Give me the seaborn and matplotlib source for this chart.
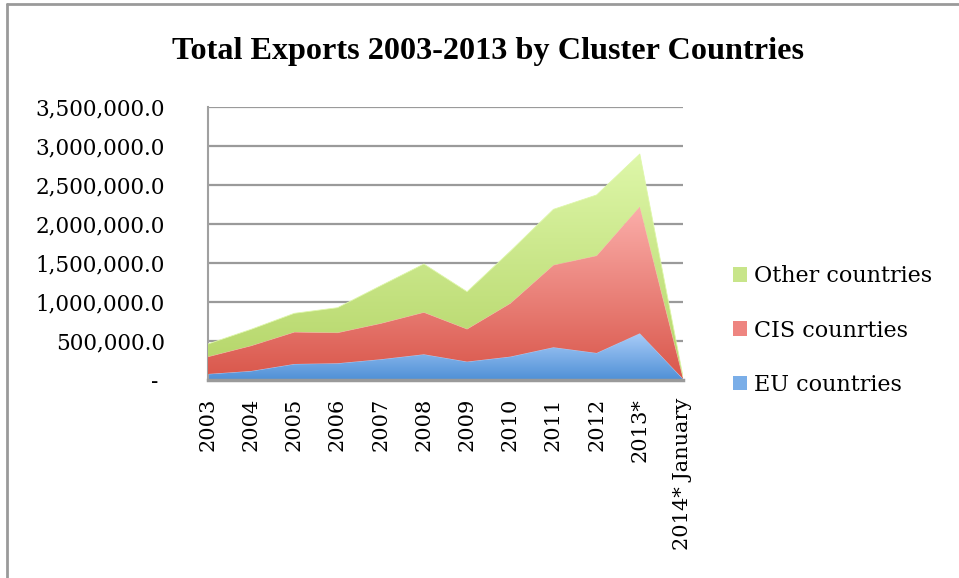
import numpy as np
import pandas as pd
import matplotlib
matplotlib.use("Agg")
import matplotlib.pyplot as plt
import seaborn as sns
from matplotlib.colors import LinearSegmentedColormap
from matplotlib.lines import Line2D
from matplotlib.patches import Patch

# ---------------- data ----------------
categories = ["2003", "2004", "2005", "2006", "2007", "2008", "2009",
              "2010", "2011", "2012", "2013*", "2014* January"]
eu_countries = [77000, 115000, 205000, 214000, 265000, 329000, 235000,
                299000, 419000, 346000, 598000, 15000]
cis_countries = [222000, 325000, 410000, 393000, 461000, 539000, 419000,
                 684000, 1055000, 1248000, 1624000, 20000]
other_countries = [163000, 210000, 240000, 320000, 483000, 619000, 478000,
                   667000, 714000, 778000, 675000, 10000]
series_names = ["EU countries", "CIS counrties", "Other countries"]
y_ticks = [0, 500000, 1000000, 1500000, 2000000, 2500000, 3000000, 3500000]

# gradient colours (bottom, top)
grad_colors = {
    "EU countries": ("#4f90d6", "#a9ccf8"),
    "CIS counrties": ("#d9564a", "#fbaeaa"),
    "Other countries": ("#b3d466", "#def7a9"),
}
legend_colors = {
    "EU countries": "#7aaee8",
    "CIS counrties": "#ee8580",
    "Other countries": "#c8e58a",
}

sns.set_theme(style="white")
plt.rcParams["font.family"] = ["DejaVu Serif"]
plt.rcParams["text.color"] = "black"
plt.rcParams["xtick.color"] = "black"
plt.rcParams["ytick.color"] = "black"
plt.rcParams["axes.labelcolor"] = "black"

fig = plt.figure(figsize=(9.59, 5.78), dpi=100)
ax = fig.add_axes([208 / 959, 1 - 380 / 578, (683 - 208) / 959, (380 - 107) / 578])

x = np.arange(len(categories))
df = pd.DataFrame({"x": x, "EU countries": eu_countries,
                   "CIS counrties": cis_countries,
                   "Other countries": other_countries})
bottom = np.zeros(len(x))
for i, name in enumerate(series_names):
    vals = df[name].to_numpy(dtype=float)
    top = bottom + vals
    poly = ax.fill_between(x, bottom, top, facecolor="none", edgecolor="none")
    cmap = LinearSegmentedColormap.from_list(name, list(grad_colors[name]))
    grad = np.linspace(0, 1, 256).reshape(-1, 1)
    im = ax.imshow(grad, cmap=cmap, aspect="auto", origin="lower",
                   extent=[x[0], x[-1], 0, top.max()], zorder=2 + i,
                   interpolation="bilinear")
    im.set_clip_path(poly.get_paths()[0], ax.transData)
    sns.lineplot(x=x, y=top, ax=ax, color=grad_colors[name][1], lw=0.6,
                 zorder=2 + i, legend=False)
    bottom = top

ax.set_xlim(x[0], x[-1])
ax.set_ylim(0, 3500000)
ax.set_aspect("auto")
ax.set_yticks(y_ticks)
ax.set_yticklabels(["- "] + [f"{v:,.1f}" for v in y_ticks[1:]])
ax.set_xticks(x)
ax.set_xticklabels(categories, rotation=90)
ax.tick_params(axis="y", length=0, pad=31, labelsize=15.5, colors="black")
ax.tick_params(axis="x", length=0, pad=13, labelsize=15, colors="black")
ax.set_xlabel("")
ax.set_ylabel("")

ax.set_axisbelow(True)
ax.yaxis.grid(True, color="#9a9a9a", lw=1.6)
ax.xaxis.grid(False)
for s in ["top", "right"]:
    ax.spines[s].set_visible(False)
ax.spines["left"].set_color("#a0a0a0")
ax.spines["left"].set_linewidth(1.5)
ax.spines["bottom"].set_color("#9a9a9a")
ax.spines["bottom"].set_linewidth(2.5)
ax.spines["bottom"].set_zorder(10)

fig.text(488 / 959, 1 - 52 / 578, "Total Exports 2003-2013 by Cluster Countries",
         ha="center", va="center", fontsize=23.2, fontweight="bold",
         color="black", family=["Liberation Serif", "DejaVu Serif"])

handles = [Patch(facecolor=legend_colors[n], edgecolor="none") for n in reversed(series_names)]
fig.legend(handles, list(reversed(series_names)), loc="center left",
           bbox_to_anchor=(724 / 959, 1 - 330.5 / 578), frameon=False,
           fontsize=16, handlelength=0.65, handleheight=0.65,
           handletextpad=0.3, labelspacing=1.45, borderaxespad=0)

# figure frame (left and top lines)
fig.add_artist(Line2D([7 / 959, 7 / 959], [0, 1 - 4 / 578], transform=fig.transFigure,
                      color="#9a9a9a", lw=2))
fig.add_artist(Line2D([7 / 959, 1], [1 - 4 / 578, 1 - 4 / 578], transform=fig.transFigure,
                      color="#9a9a9a", lw=2))

fig.savefig("out.png", dpi=100)
